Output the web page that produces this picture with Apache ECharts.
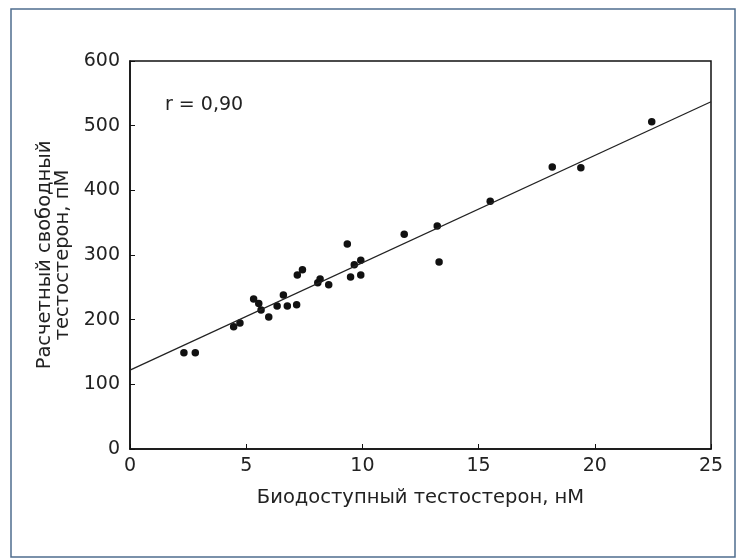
<!DOCTYPE html>
<html>
<head>
<meta charset="utf-8">
<script src="https://cdn.jsdelivr.net/npm/echarts@6/dist/echarts.min.js"></script>
<style>
  html, body { margin: 0; padding: 0; background: #fff; }
  #chart { width: 744px; height: 559px; }
</style>
</head>
<body>
<div id="chart"></div>
<script>
// биодоступный тестостерон, нМ
var bioT = [2.32, 2.81, 4.46, 4.73, 5.32, 5.54, 5.64, 5.97, 6.33, 6.6, 6.77, 7.17, 7.2, 7.42,
  8.08, 8.18, 8.55, 9.35, 9.49, 9.65, 9.93, 9.93, 11.8, 13.22, 13.3, 15.5, 18.17, 19.4, 22.45];
// расчетный свободный тестостерон, пМ
var freeT = [149, 149, 189, 195, 232, 225, 215, 204, 221, 238, 221, 223, 269, 277,
  257, 263, 254, 317, 266, 285, 292, 269, 332, 345, 289, 383, 436, 435, 506];
// линия регрессии
var fitX = [0, 25];
var fitY = [122, 537];
var xTicks = [0, 25, 5];
var yTicks = [0, 600, 100];

var points = bioT.map(function (x, i) { return [x, freeT[i]]; });
var fitLine = fitX.map(function (x, i) { return [x, fitY[i]]; });

var font = 'DejaVu Sans';
var chart = echarts.init(document.getElementById('chart'));
chart.setOption({
  animation: false,
  backgroundColor: '#fff',
  grid: {
    left: 130, right: 33, top: 61, bottom: 110,
    show: true, borderColor: '#111', borderWidth: 1.5
  },
  xAxis: {
    type: 'value', min: xTicks[0], max: xTicks[1], interval: xTicks[2],
    name: 'Биодоступный тестостерон, нМ',
    nameLocation: 'middle', nameGap: 39,
    nameTextStyle: { fontFamily: font, fontSize: 19.5, color: '#222' },
    axisLine: { lineStyle: { color: '#111', width: 1.5 } },
    axisTick: { inside: true, length: 5, lineStyle: { color: '#111' } },
    axisLabel: { fontFamily: font, fontSize: 19, color: '#222', margin: 8 },
    splitLine: { show: false }
  },
  yAxis: {
    type: 'value', min: yTicks[0], max: yTicks[1], interval: yTicks[2],
    name: 'Расчетный свободный\nтестостерон, пМ',
    nameLocation: 'middle', nameGap: 58, nameRotate: 90,
    nameTextStyle: { fontFamily: font, fontSize: 19.5, color: '#222', lineHeight: 18, align: 'center' },
    axisLine: { lineStyle: { color: '#111', width: 1.5 } },
    axisTick: { inside: true, length: 5, lineStyle: { color: '#111' } },
    axisLabel: { fontFamily: font, fontSize: 19, color: '#222', margin: 10 },
    splitLine: { show: false }
  },
  graphic: [
    {
      type: 'rect', silent: true,
      shape: { x: 11, y: 9, width: 724, height: 548 },
      style: { fill: 'none', stroke: '#4f6d8e', lineWidth: 1.5 }
    },
    {
      type: 'text', left: 165, top: 96,
      style: { text: 'r = 0,90', font: '19px "DejaVu Sans"', fill: '#222' }
    }
  ],
  series: [
    {
      type: 'line', data: fitLine, showSymbol: false,
      lineStyle: { color: '#222', width: 1.3 }
    },
    {
      type: 'scatter', data: points, symbolSize: 7.5,
      itemStyle: { color: '#111', opacity: 1 }
    }
  ]
});
</script>
</body>
</html>
